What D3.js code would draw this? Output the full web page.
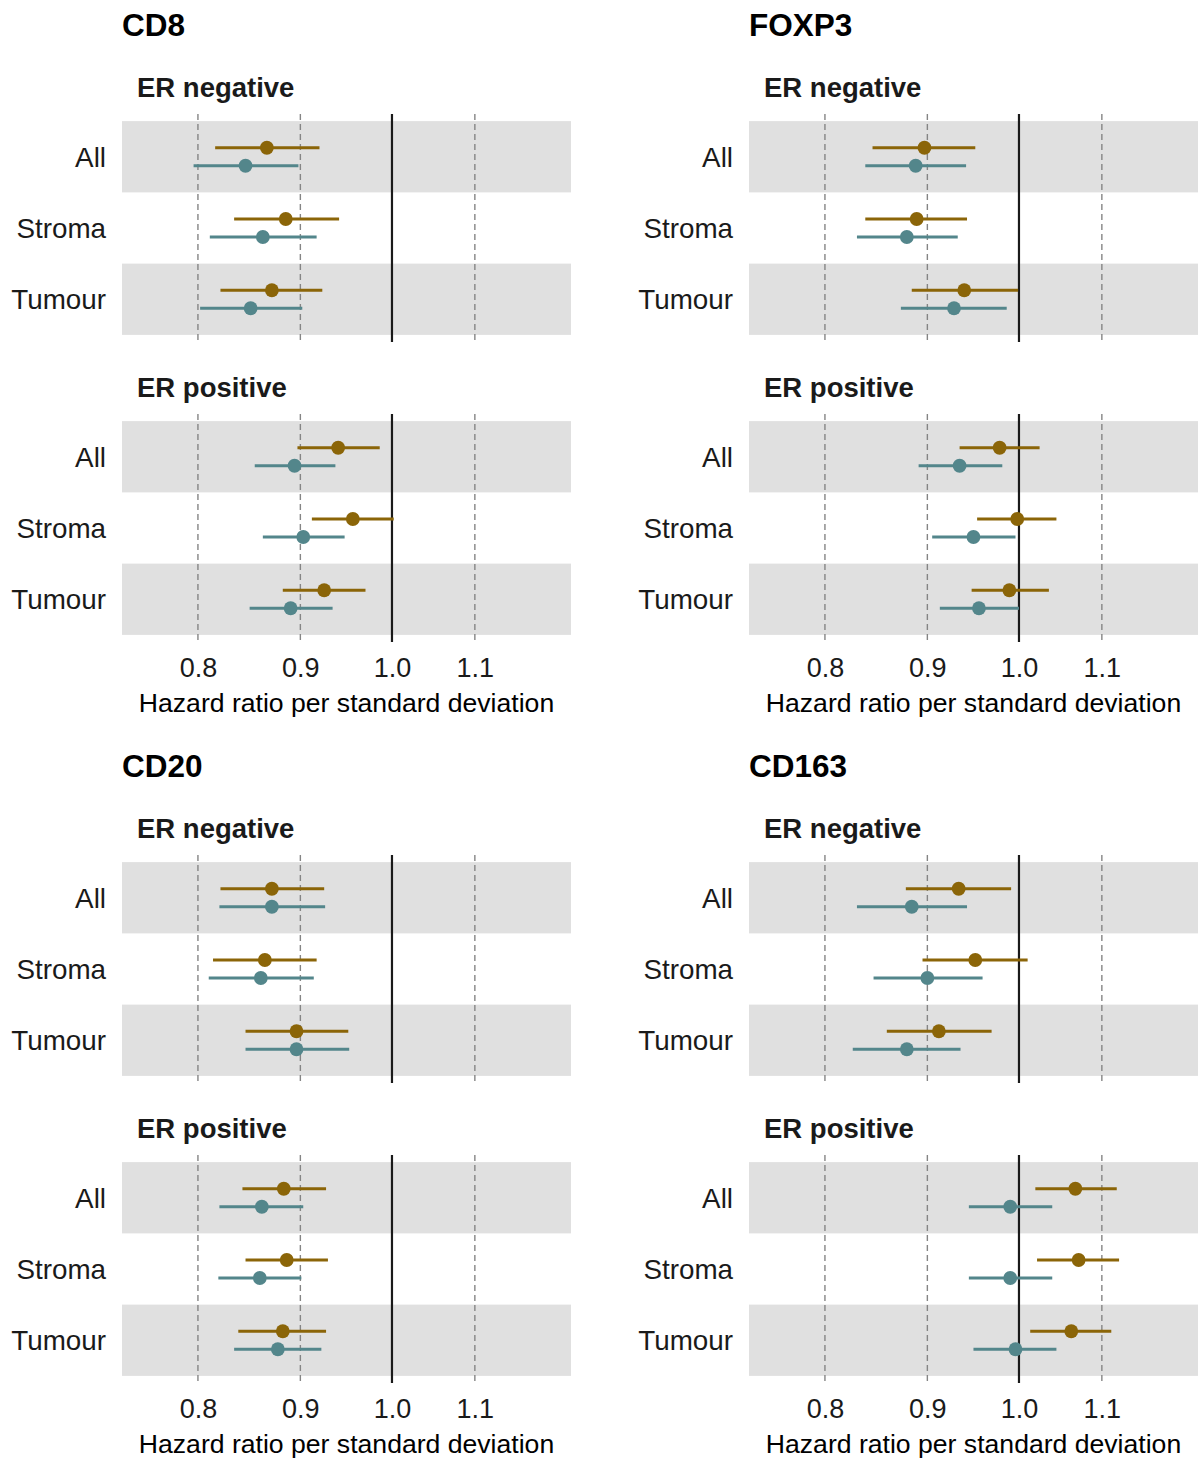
<!DOCTYPE html>
<html>
<head>
<meta charset="utf-8">
<script src="https://cdn.jsdelivr.net/npm/d3@7"></script>
<style>
  body { margin: 0; background: #fff; }
  text { font-family: "Liberation Sans", Arial, Helvetica, sans-serif; }
</style>
</head>
<body>
<div id="chart"></div>
<script>
// markers, ER groups and tissue regions
var markers = ["CD8", "FOXP3", "CD20", "CD163"];
var erGroups = ["ER negative", "ER positive"];
var regions = ["All", "Stroma", "Tumour"];
var series = ["brown", "teal"];
var xTicks = [0.8, 0.9, 1.0, 1.1];

// hazard ratios, order: marker -> ER group -> region (All, Stroma, Tumour)
var brownHR = [0.866, 0.885, 0.871,  0.940, 0.956, 0.925,
               0.897, 0.889, 0.939,  0.978, 0.998, 0.989,
               0.871, 0.864, 0.896,  0.883, 0.886, 0.882,
               0.933, 0.951, 0.912,  1.067, 1.071, 1.062];
var brownLo = [0.816, 0.834, 0.821,  0.897, 0.912, 0.882,
               0.845, 0.838, 0.884,  0.934, 0.953, 0.947,
               0.821, 0.814, 0.845,  0.842, 0.845, 0.838,
               0.878, 0.895, 0.859,  1.019, 1.021, 1.013];
var brownHi = [0.920, 0.941, 0.923,  0.986, 1.002, 0.970,
               0.951, 0.942, 0.999,  1.024, 1.044, 1.035,
               0.925, 0.917, 0.951,  0.927, 0.929, 0.927,
               0.991, 1.010, 0.969,  1.119, 1.122, 1.112];
var tealHR  = [0.845, 0.862, 0.850,  0.894, 0.903, 0.890,
               0.888, 0.879, 0.928,  0.934, 0.949, 0.955,
               0.871, 0.860, 0.896,  0.861, 0.859, 0.877,
               0.884, 0.900, 0.879,  0.990, 0.990, 0.996];
var tealLo  = [0.796, 0.811, 0.802,  0.854, 0.862, 0.849,
               0.838, 0.830, 0.873,  0.891, 0.905, 0.913,
               0.820, 0.810, 0.845,  0.820, 0.819, 0.834,
               0.830, 0.846, 0.826,  0.944, 0.944, 0.949];
var tealHi  = [0.898, 0.917, 0.902,  0.937, 0.947, 0.934,
               0.941, 0.932, 0.986,  0.981, 0.996, 1.000,
               0.926, 0.914, 0.952,  0.903, 0.901, 0.922,
               0.942, 0.959, 0.935,  1.039, 1.039, 1.044];

var colors = { brown: "#8B6508", teal: "#53868B" };

var svgWidth = 1198;
var svgHeight = 1459;

var svg = d3.select("#chart")
  .append("svg")
  .attr("width", svgWidth)
  .attr("height", svgHeight);

// layout of the 2x2 grid of markers
var colLeft = [122, 749];
var blockTop = [0, 741];
var panelWidth = 449;
var panelHeight = 228;
var panelTop = [114, 414];

var x = d3.scaleLog()
  .domain([0.7331, 1.2286])
  .range([0, panelWidth]);

var y = d3.scaleBand()
  .domain(regions)
  .range([7.125, panelHeight - 7.125]);

var dodge = d3.scalePoint()
  .domain(series)
  .range([-9, 9]);

markers.forEach(function(marker, m) {
  var block = svg.append("g")
    .attr("transform", `translate(${colLeft[m % 2]}, ${blockTop[Math.floor(m / 2)]})`);

  block.append("text")
    .attr("x", 0)
    .attr("y", 36)
    .attr("font-size", 31.5)
    .attr("font-weight", "bold")
    .attr("fill", "#000")
    .text(marker);

  erGroups.forEach(function(er, e) {
    // strip label
    block.append("text")
      .attr("x", 15)
      .attr("y", panelTop[e] - 17)
      .attr("font-size", 27.5)
      .attr("font-weight", "bold")
      .attr("fill", "#1a1a1a")
      .text(er);

    var panel = block.append("g")
      .attr("transform", `translate(0, ${panelTop[e]})`);

    // alternating grey bands
    panel.selectAll("rect.band")
      .data(regions.filter(function(d, i) { return i % 2 === 0; }))
      .enter()
      .append("rect")
      .attr("class", "band")
      .attr("x", 0)
      .attr("width", panelWidth)
      .attr("y", d => y(d))
      .attr("height", y.bandwidth())
      .attr("fill", "#e0e0e0");

    // dashed grid lines
    panel.selectAll("line.grid")
      .data(xTicks.filter(d => d !== 1.0))
      .enter()
      .append("line")
      .attr("class", "grid")
      .attr("x1", d => x(d))
      .attr("x2", d => x(d))
      .attr("y1", 0)
      .attr("y2", panelHeight)
      .attr("stroke", "#858585")
      .attr("stroke-width", 1.4)
      .attr("stroke-dasharray", "6,4");

    // reference line at HR = 1
    panel.append("line")
      .attr("x1", x(1))
      .attr("x2", x(1))
      .attr("y1", 0)
      .attr("y2", panelHeight)
      .attr("stroke", "#1a1a1a")
      .attr("stroke-width", 2.2);

    // row labels
    panel.selectAll("text.row")
      .data(regions)
      .enter()
      .append("text")
      .attr("class", "row")
      .attr("x", -16)
      .attr("y", d => y(d) + y.bandwidth() / 2)
      .attr("dy", "0.36em")
      .attr("text-anchor", "end")
      .attr("font-size", 27.8)
      .attr("fill", "#1a1a1a")
      .text(d => d);

    // build rows for this panel
    var rows = [];
    regions.forEach(function(r, k) {
      var idx = m * 6 + e * 3 + k;
      rows.push({ region: r, s: "brown", hr: brownHR[idx], lo: brownLo[idx], hi: brownHi[idx] });
      rows.push({ region: r, s: "teal", hr: tealHR[idx], lo: tealLo[idx], hi: tealHi[idx] });
    });

    var cy = d => y(d.region) + y.bandwidth() / 2 + dodge(d.s);

    panel.selectAll("line.ci")
      .data(rows)
      .enter()
      .append("line")
      .attr("class", "ci")
      .attr("x1", d => x(d.lo))
      .attr("x2", d => x(d.hi))
      .attr("y1", cy)
      .attr("y2", cy)
      .attr("stroke", d => colors[d.s])
      .attr("stroke-width", 3.2);

    panel.selectAll("circle")
      .data(rows)
      .enter()
      .append("circle")
      .attr("cx", d => x(d.hr))
      .attr("cy", cy)
      .attr("r", 6.9)
      .attr("fill", d => colors[d.s]);
  });

  // x axis tick labels under the lower panel
  var axis = d3.axisBottom(x)
    .tickValues(xTicks)
    .tickFormat(d3.format(".1f"))
    .tickSize(0)
    .tickPadding(0);

  var axisG = block.append("g")
    .attr("transform", `translate(0, ${panelTop[1] + panelHeight})`)
    .call(axis);
  axisG.select(".domain").remove();
  axisG.selectAll("text")
    .attr("y", 35)
    .attr("dy", 0)
    .attr("font-size", 27)
    .attr("fill", "#1a1a1a")
    .attr("font-family", "Liberation Sans, Arial, sans-serif");

  block.append("text")
    .attr("x", panelWidth / 2)
    .attr("y", panelTop[1] + panelHeight + 70)
    .attr("text-anchor", "middle")
    .attr("font-size", 26.6)
    .attr("fill", "#000")
    .text("Hazard ratio per standard deviation");
});
</script>
</body>
</html>
